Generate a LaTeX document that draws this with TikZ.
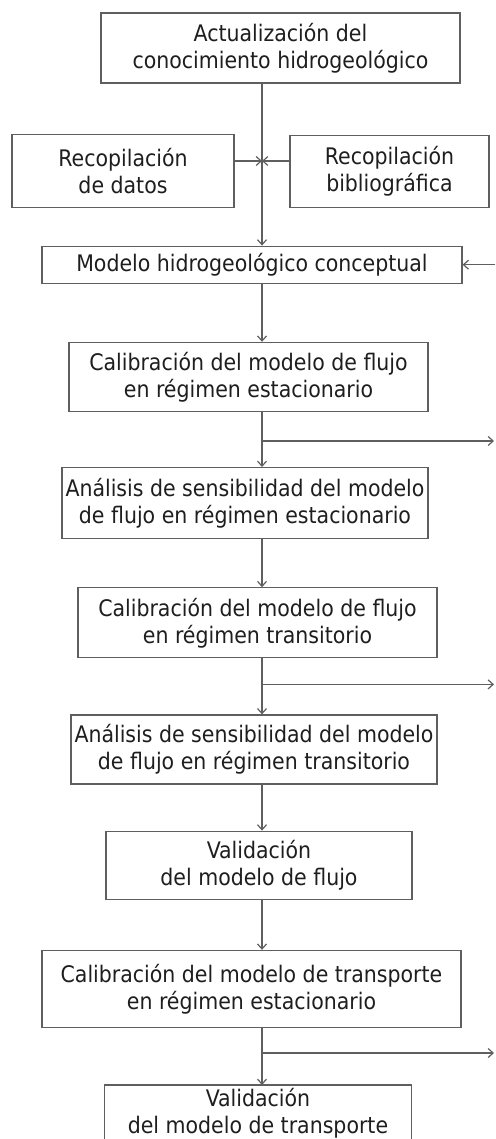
\documentclass[tikz,border=0pt]{standalone}
\usepackage{fontspec}
\setmainfont{DejaVu Sans Condensed}
\usetikzlibrary{arrows.meta,positioning,calc}
\definecolor{linegray}{HTML}{5F5F5F}
\definecolor{ink}{HTML}{1E1E1E}
\tikzset{
  box/.style={rectangle, draw=linegray, line width=1.2pt, align=center, text=ink,
    font=\fontsize{22.8}{27}\selectfont, inner sep=1pt},
  arr/.style={-{Straight Barb[length=5pt,width=9pt]}, draw=linegray, line width=1.2pt},
}

\begin{document}
\begin{tikzpicture}
  \useasboundingbox (0,0) rectangle (495pt,-1139pt);
  % main vertical line and right border
  \coordinate (spine) at (262pt,0);
  \coordinate (rim) at (494pt,0);

  \node[box, minimum width=359pt, minimum height=70pt] (actual) at (280.5pt,-48pt)
    {Actualización del\\conocimiento hidrogeológico};
  \node[box, minimum width=222pt, minimum height=73pt, below=50pt of actual, xshift=-157.5pt] (datos)
    {Recopilación\\de datos};
  \node[box, minimum width=199pt, minimum height=72pt, below=51pt of actual, xshift=109pt] (biblio)
    {Recopilación\\bibliográfica};
  \node[box, minimum width=420pt, minimum height=37pt, below=162pt of actual, xshift=-28.5pt] (modelo)
    {Modelo hidrogeológico conceptual};
  % flow model
  \node[box, minimum width=359pt, minimum height=69pt, below=58pt of modelo, xshift=-3.5pt] (calest)
    {Calibración del modelo de flujo\\en régimen estacionario};
  \node[box, minimum width=366pt, minimum height=71pt, below=55pt of calest, xshift=-3.5pt] (anaest)
    {Análisis de sensibilidad del modelo\\de flujo en régimen estacionario};
  \node[box, minimum width=359pt, minimum height=70pt, below=48pt of anaest, xshift=12.5pt] (caltra)
    {Calibración del modelo de flujo\\en régimen transitorio};
  \node[box, minimum width=366pt, minimum height=69pt, below=56pt of caltra, xshift=-3.5pt] (anatra)
    {Análisis de sensibilidad del modelo\\de flujo en régimen transitorio};
  \node[box, minimum width=306pt, minimum height=68pt, below=46pt of anatra, xshift=5pt] (valflu)
    {Validación\\del modelo de flujo};
  % transport model
  \node[box, minimum width=419pt, minimum height=77pt, below=50pt of valflu, xshift=-7.5pt] (caltsp)
    {Calibración del modelo de transporte\\en régimen estacionario};
  % last box runs off the page: no bottom side
  \node[box, draw=none, minimum width=306pt, minimum height=56pt, below=57pt of caltsp, xshift=6.5pt] (valtsp)
    {Validación\\del modelo de transporte};
  \draw[linegray, line width=1.2pt] ([yshift=-18pt]valtsp.south west) -- (valtsp.north west)
    -- (valtsp.north east) -- ([yshift=-18pt]valtsp.south east);

  % inputs meeting on the main line
  \coordinate (mix) at ($(spine)+(0,-161pt)$);
  \draw[arr] (actual.south -| spine) -- (modelo.north -| spine);
  \draw[arr] (datos.east |- mix) -- (mix);
  \draw[arr] (biblio.west |- mix) -- (mix);
  \draw[arr] ([xshift=1pt]modelo.east -| rim) -- (modelo.east);

  \draw[arr] (modelo.south -| spine) -- (calest.north -| spine);
  \draw[arr] (calest.south -| spine) -- (anaest.north -| spine);
  \draw[arr] (anaest.south -| spine) -- (caltra.north -| spine);
  \draw[arr] (caltra.south -| spine) -- (anatra.north -| spine);
  \draw[arr] (anatra.south -| spine) -- (valflu.north -| spine);
  \draw[arr] (valflu.south -| spine) -- (caltsp.north -| spine);
  \draw[arr] (caltsp.south -| spine) -- (valtsp.north -| spine);

  % branches to the right
  \coordinate (b1) at ($(calest.south -| spine)+(0,-29pt)$);
  \coordinate (b2) at ($(caltra.south -| spine)+(0,-26pt)$);
  \coordinate (b3) at ($(caltsp.south -| spine)+(0,-25pt)$);
  \draw[arr] (b1) -- (b1 -| rim);
  \draw[arr] (b2) -- (b2 -| rim);
  \draw[arr] (b3) -- (b3 -| rim);
\end{tikzpicture}
\end{document}
